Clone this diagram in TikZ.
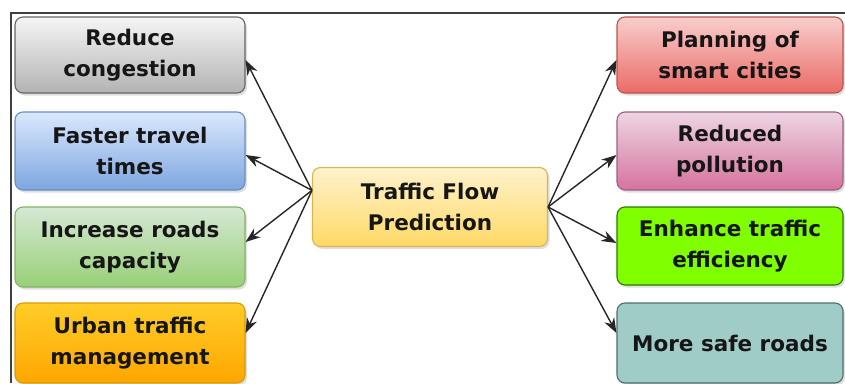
\documentclass[tikz,border=0pt]{standalone}
\usepackage{fontspec}
\setmainfont{DejaVu Sans}
\usetikzlibrary{arrows.meta,shadows}

\definecolor{txt}{HTML}{161616}
\definecolor{greytop}{HTML}{F5F5F5}   \definecolor{greybot}{HTML}{B3B3B3}   \definecolor{greyline}{HTML}{666666}
\definecolor{bluetop}{HTML}{DAE8FC}   \definecolor{bluebot}{HTML}{7EA6E0}   \definecolor{blueline}{HTML}{6C8EBF}
\definecolor{greentop}{HTML}{D5E8D4}  \definecolor{greenbot}{HTML}{97D077}  \definecolor{greenline}{HTML}{82B366}
\definecolor{orangetop}{HTML}{FFCD28} \definecolor{orangebot}{HTML}{FFA500} \definecolor{orangeline}{HTML}{D79B00}
\definecolor{redtop}{HTML}{F8CECC}    \definecolor{redbot}{HTML}{EA6B66}    \definecolor{redline}{HTML}{B85450}
\definecolor{pinktop}{HTML}{EED5E3}   \definecolor{pinkbot}{HTML}{D5739D}   \definecolor{pinkline}{HTML}{996185}
\definecolor{limefill}{HTML}{80FF00}  \definecolor{limeline}{HTML}{2D7600}
\definecolor{tealfill}{HTML}{A0CCC8}  \definecolor{tealline}{HTML}{4E6E6A}
\definecolor{yellowtop}{HTML}{FFF2CC} \definecolor{yellowbot}{HTML}{FFD966} \definecolor{yellowline}{HTML}{D6B656}

\begin{document}
\begin{tikzpicture}[
        x=1pt, y=-1pt,
        box/.style={draw, line width=1.1pt, rounded corners=8pt, align=center,
            inner sep=0pt, text=txt,
            font=\fontsize{21.5}{31}\selectfont\bfseries,
            drop shadow={opacity=0.25, shadow xshift=2pt, shadow yshift=-2.5pt}},
        wide/.style={box, minimum width=230pt},
        narrow/.style={box, minimum width=226pt},
        greybox/.style={wide, draw=greyline, top color=greytop, bottom color=greybot},
        bluebox/.style={wide, draw=blueline, top color=bluetop, bottom color=bluebot},
        greenbox/.style={wide, draw=greenline, top color=greentop, bottom color=greenbot},
        orangebox/.style={wide, draw=orangeline, top color=orangetop, bottom color=orangebot},
        redbox/.style={narrow, draw=redline, top color=redtop, bottom color=redbot},
        pinkbox/.style={narrow, draw=pinkline, top color=pinktop, bottom color=pinkbot},
        limebox/.style={narrow, draw=limeline, fill=limefill},
        tealbox/.style={narrow, draw=tealline, fill=tealfill},
        link/.style={-{Stealth[length=15pt,width=11pt]}, line width=1.4pt, black!85}
    ]
        \useasboundingbox (0,0) rectangle (845,383);

        % frame edges
        \draw[line width=1.3pt, black!75] (11,383) -- (11,13) -- (845,13);

        % centre
        \node[box, minimum width=235pt, minimum height=79pt, draw=yellowline,
            top color=yellowtop, bottom color=yellowbot]
            (tfp) at (430,207) {Traffic Flow\\Prediction};

        % left column
        \node[greybox, minimum height=76pt] (reduce) at (130,55) {Reduce\\congestion};
        \node[bluebox, minimum height=78pt] (faster) at (130,151) {Faster travel\\times};
        \node[greenbox, minimum height=80pt] (increase) at (130,247) {Increase roads\\capacity};
        \node[orangebox, minimum height=80pt] (urban) at (130,343) {Urban traffic\\management};

        % right column
        \node[redbox, minimum height=76pt] (planning) at (730,55) {Planning of\\smart cities};
        \node[pinkbox, minimum height=78pt] (pollution) at (730,151) {Reduced\\pollution};
        \node[limebox, minimum height=78pt] (enhance) at (730,246) {Enhance traffic\\efficiency};
        \node[tealbox, minimum height=80pt] (safe) at (730,343) {More safe roads};

        \draw[link] (tfp.172) -- ([yshift=-5pt]reduce.east);
        \draw[link] (tfp.172) -- ([yshift=-4pt]faster.east);
        \draw[link] (tfp.172) -- ([yshift=5pt]increase.east);
        \draw[link] (tfp.172) -- ([yshift=10pt]urban.east);

        \draw[link] (tfp.east) -- ([yshift=-5pt]planning.west);
        \draw[link] (tfp.east) -- ([yshift=-4pt]pollution.west);
        \draw[link] (tfp.east) -- ([yshift=3pt]enhance.west);
        \draw[link] (tfp.east) -- ([yshift=10pt]safe.west);
\end{tikzpicture}
\end{document}
